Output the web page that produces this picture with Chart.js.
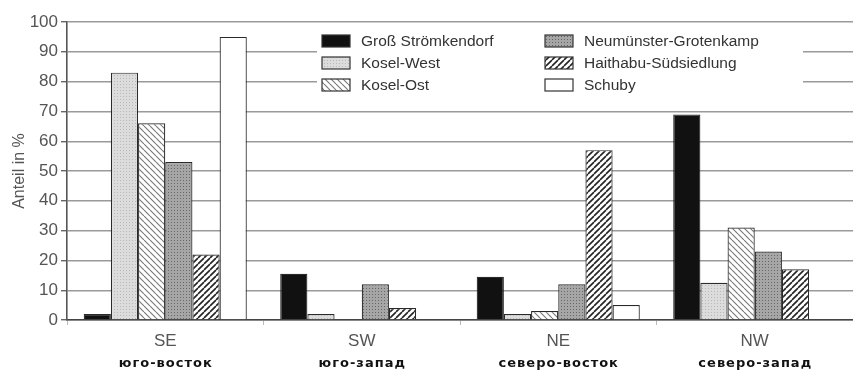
<!DOCTYPE html>
<html>
<head>
<meta charset="utf-8">
<script src="https://cdn.jsdelivr.net/npm/chart.js@4/dist/chart.umd.min.js"></script>
<style>
  html, body { margin: 0; padding: 0; background: #fff; }
  #wrap { width: 853px; height: 374px; }
</style>
</head>
<body>
<div id="wrap"><canvas id="chart" width="853" height="374"></canvas></div>
<script>
const directions = ["SE", "SW", "NE", "NW"];
const directionsRu = ["юго-восток", "юго-запад", "северо-восток", "северо-запад"];

const sites = ["Groß Strömkendorf", "Kosel-West", "Kosel-Ost",
               "Neumünster-Grotenkamp", "Haithabu-Südsiedlung", "Schuby"];

const grossStroemkendorf = [2, 15.5, 14.5, 69];
const koselWest = [83, 2, 2, 12.5];
const koselOst = [66, 0, 3, 31];
const neumuensterGrotenkamp = [53, 12, 12, 23];
const haithabuSuedsiedlung = [22, 4, 57, 17];
const schuby = [95, 0, 5, 0];

const yTicks = [0, 10, 20, 30, 40, 50, 60, 70, 80, 90, 100];

// small tiles used as bar fills
const makeTile = (size, draw) => {
  const c = document.createElement("canvas");
  c.width = size;
  c.height = size;
  const g = c.getContext("2d");
  draw(g, size);
  return document.getElementById("chart").getContext("2d").createPattern(c, "repeat");
};

const dots = (bg, fg) => makeTile(3, (g) => {
  g.fillStyle = bg;
  g.fillRect(0, 0, 3, 3);
  g.fillStyle = fg;
  g.fillRect(0, 0, 1, 1);
});

const hatch = (color, width, forward) => makeTile(6, (g, s) => {
  g.fillStyle = "#fff";
  g.fillRect(0, 0, s, s);
  g.strokeStyle = color;
  g.lineWidth = width;
  g.beginPath();
  for (let k = -1; k <= 1; k++) {
    if (forward) {
      g.moveTo(k * s, s);
      g.lineTo(k * s + s, 0);
    } else {
      g.moveTo(k * s, 0);
      g.lineTo(k * s + s, s);
    }
  }
  g.stroke();
});

const fills = [
  "#111",
  dots("#dcdcdc", "#b8b8b8"),
  hatch("#777", 1.1, false),
  dots("#a6a6a6", "#666"),
  hatch("#222", 1.6, true),
  "#fff"
];

const seriesValues = [grossStroemkendorf, koselWest, koselOst,
                      neumuensterGrotenkamp, haithabuSuedsiedlung, schuby];

const datasets = sites.map((name, i) => ({
  label: name,
  data: seriesValues[i],
  backgroundColor: fills[i],
  borderColor: "#2a2a2a",
  borderWidth: 1.2,
  borderSkipped: "bottom",
  barPercentage: 1,
  categoryPercentage: 0.83
}));

// legend box in the upper part of the plot, two columns
const boxLegend = {
  id: "boxLegend",
  afterDraw(chart) {
    const c = chart.ctx;
    c.save();
    c.fillStyle = "#fff";
    c.fillRect(317, 26, 486, 74);
    c.font = "15.5px 'Liberation Sans', Arial, sans-serif";
    c.textBaseline = "middle";
    sites.forEach((name, i) => {
      const col = Math.floor(i / 3);
      const row = i % 3;
      const bx = col === 0 ? 322 : 545;
      const cy = 41 + row * 22;
      c.fillStyle = fills[i];
      c.fillRect(bx, cy - 6, 28, 12);
      c.strokeStyle = "#333";
      c.lineWidth = 1.2;
      c.strokeRect(bx, cy - 6, 28, 12);
      c.fillStyle = "#333";
      c.fillText(name, bx + 39, cy + 1);
    });
    c.restore();
  }
};

// bold Russian captions under the direction ticks
const subLabels = {
  id: "subLabels",
  afterDraw(chart) {
    const c = chart.ctx;
    const x = chart.scales.x;
    c.save();
    c.font = "bold 13px 'DejaVu Sans', sans-serif";
    c.letterSpacing = "1px";
    c.fillStyle = "#111";
    c.textAlign = "center";
    c.textBaseline = "middle";
    directionsRu.forEach((t, i) => {
      c.fillText(t, x.getPixelForValue(i) + 0.5, 364);
    });
    c.restore();
  }
};

new Chart(document.getElementById("chart"), {
  type: "bar",
  data: { labels: directions, datasets: datasets },
  options: {
    responsive: false,
    animation: false,
    layout: { padding: { top: 22, right: 0, left: 0, bottom: 0 } },
    plugins: {
      legend: { display: false },
      tooltip: { enabled: false }
    },
    scales: {
      x: {
        afterFit: (s) => { s.height = 54; },
        grid: {
          offset: true,
          drawOnChartArea: false,
          drawTicks: true,
          tickLength: 5,
          color: "#bbb"
        },
        border: { color: "#444", width: 1.5 },
        ticks: {
          color: "#555",
          padding: 6,
          font: { family: "'Liberation Sans', Arial, sans-serif", size: 17 }
        }
      },
      y: {
        min: 0,
        max: 100,
        afterFit: (s) => { s.width = 67; },
        afterBuildTicks: (s) => { s.ticks = yTicks.map(v => ({ value: v })); },
        grid: {
          color: "#9a9a9a",
          lineWidth: 1.4,
          tickLength: 6,
          tickColor: "#666"
        },
        border: { color: "#555", width: 1.6 },
        ticks: {
          color: "#555",
          padding: 3,
          font: { family: "'Liberation Sans', Arial, sans-serif", size: 17 }
        },
        title: {
          display: true,
          text: "Anteil in %",
          color: "#555",
          padding: { top: 10, bottom: 0 },
          font: { family: "'Liberation Sans', Arial, sans-serif", size: 16 }
        }
      }
    }
  },
  plugins: [boxLegend, subLabels]
});
</script>
</body>
</html>
